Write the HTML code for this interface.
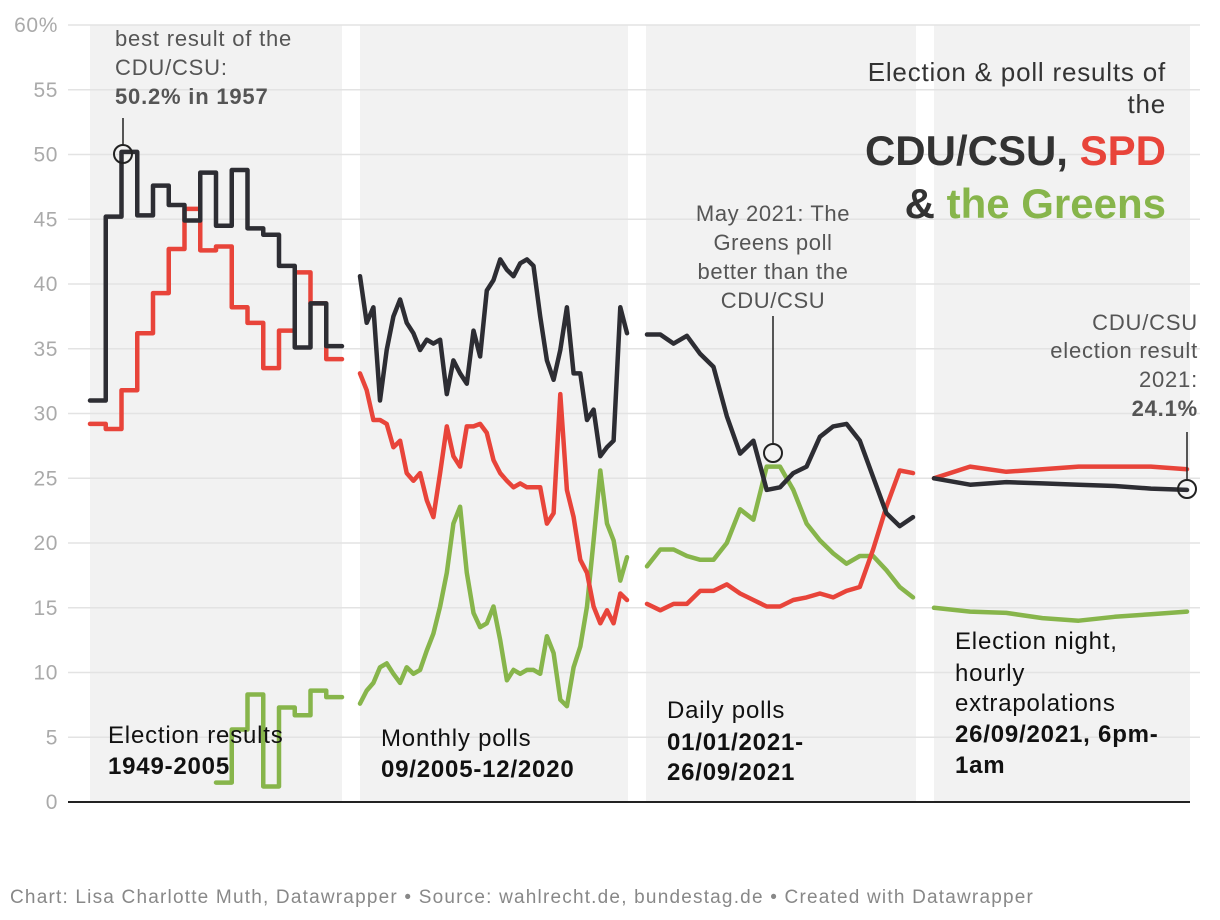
<!DOCTYPE html>
<html><head><meta charset="utf-8">
<style>
html,body{margin:0;padding:0;background:#fff;}
svg{display:block;font-family:"Liberation Sans",Arial,sans-serif;}
</style></head>
<body>
<svg id="chart" width="1220" height="920" viewBox="0 0 1220 920" xmlns="http://www.w3.org/2000/svg">
  <g id="bg"></g>
  <g id="grid"></g>
  <g id="yaxis"></g>
  <g id="series"></g>
  <line x1="68" y1="802" x2="1190" y2="802" stroke="#222" stroke-width="2"/>

  <g text-anchor="end">
    <text x="1166" y="81" font-size="26" letter-spacing="0.8" fill="#333">Election &amp; poll results of</text>
    <text x="1166" y="113" font-size="26" letter-spacing="0.8" fill="#333">the</text>
    <text x="1166" y="165" font-size="42" font-weight="bold" fill="#333">CDU/CSU, <tspan fill="#e8443a">SPD</tspan></text>
    <text x="1166" y="218" font-size="42" font-weight="bold" fill="#333">&amp; <tspan fill="#87b54b">the Greens</tspan></text>
  </g>

  <g font-size="22" letter-spacing="0.8" fill="#555">
    <text x="115" y="46">best result of the</text>
    <text x="115" y="75">CDU/CSU:</text>
    <text x="115" y="104" font-weight="bold">50.2% in 1957</text>
    <line x1="123" y1="118" x2="123" y2="145" stroke="#222" stroke-width="1.5"/>
    <circle cx="123" cy="154" r="9" fill="none" stroke="#222" stroke-width="2"/>
  </g>
  <g font-size="22" letter-spacing="0.6" fill="#555" text-anchor="middle">
    <text x="773" y="221">May 2021: The</text>
    <text x="773" y="250">Greens poll</text>
    <text x="773" y="279">better than the</text>
    <text x="773" y="308">CDU/CSU</text>
    <line x1="773" y1="316" x2="773" y2="444" stroke="#222" stroke-width="1.5"/>
    <circle cx="773" cy="453" r="9" fill="none" stroke="#222" stroke-width="2"/>
  </g>
  <g font-size="22" letter-spacing="0.8" fill="#555" text-anchor="end">
    <text x="1198" y="330">CDU/CSU</text>
    <text x="1198" y="358">election result</text>
    <text x="1198" y="387">2021:</text>
    <text x="1198" y="416" font-weight="bold">24.1%</text>
    <line x1="1187" y1="432" x2="1187" y2="480" stroke="#222" stroke-width="1.5"/>
    <circle cx="1187" cy="489" r="9" fill="none" stroke="#222" stroke-width="2"/>
  </g>

  <g font-size="24" letter-spacing="0.8" fill="#111">
    <text x="108" y="743">Election results</text>
    <text x="108" y="774" font-weight="bold">1949-2005</text>
    <text x="381" y="746">Monthly polls</text>
    <text x="381" y="777" font-weight="bold">09/2005-12/2020</text>
    <text x="667" y="718">Daily polls</text>
    <text x="667" y="750" font-weight="bold">01/01/2021-</text>
    <text x="667" y="780" font-weight="bold">26/09/2021</text>
    <text x="955" y="649">Election night,</text>
    <text x="955" y="681">hourly</text>
    <text x="955" y="711">extrapolations</text>
    <text x="955" y="742" font-weight="bold">26/09/2021, 6pm-</text>
    <text x="955" y="773" font-weight="bold">1am</text>
  </g>

  <text x="10" y="903" font-size="19" letter-spacing="1.2" fill="#888">Chart: Lisa Charlotte Muth, Datawrapper • Source: wahlrecht.de, bundestag.de • Created with Datawrapper</text>
</svg>
<script>
// ---- data ----
const yTicks = [0,5,10,15,20,25,30,35,40,45,50,55,60];
const elections = [1949,1953,1957,1961,1965,1969,1972,1976,1980,1983,1987,1990,1994,1998,2002,2005];
const cduElection = [31.0,45.2,50.2,45.3,47.6,46.1,44.9,48.6,44.5,48.8,44.3,43.8,41.4,35.1,38.5,35.2];
const spdElection = [29.2,28.8,31.8,36.2,39.3,42.7,45.8,42.6,42.9,38.2,37.0,33.5,36.4,40.9,38.5,34.2];
const greensElection = [null,null,null,null,null,null,null,null,1.5,5.6,8.3,1.2,7.3,6.7,8.6,8.1];
const cduMonthly = [40.6,37.0,38.2,31.0,34.9,37.5,38.8,37.0,36.2,34.9,35.7,35.4,35.7,31.5,34.1,33.1,32.3,36.4,34.4,39.5,40.3,41.9,41.1,40.6,41.6,41.9,41.4,37.5,34.1,32.6,34.9,38.2,33.1,33.1,29.5,30.3,26.7,27.4,27.9,38.2,36.2];
const spdMonthly = [33.1,31.8,29.5,29.5,29.2,27.4,27.9,25.4,24.8,25.4,23.3,22.0,25.4,29.0,26.7,25.9,29.0,29.0,29.2,28.5,26.4,25.4,24.8,24.3,24.6,24.3,24.3,24.3,21.5,22.3,31.5,24.1,22.0,18.7,17.7,15.1,13.8,14.8,13.8,16.1,15.6];
const greensMonthly = [7.6,8.6,9.2,10.4,10.7,9.9,9.2,10.4,9.9,10.2,11.7,13.0,15.1,17.7,21.5,22.8,17.7,14.6,13.5,13.8,15.1,12.5,9.4,10.2,9.9,10.2,10.2,9.9,12.8,11.5,7.9,7.4,10.4,12.0,15.1,20.2,25.6,21.5,20.2,17.1,18.9];
const cduDaily = [36.1,36.1,35.4,36.0,34.6,33.6,29.8,26.9,27.9,24.1,24.3,25.4,25.9,28.2,29.0,29.2,27.9,25.1,22.3,21.3,22.0];
const spdDaily = [15.3,14.8,15.3,15.3,16.3,16.3,16.8,16.1,15.6,15.1,15.1,15.6,15.8,16.1,15.8,16.3,16.6,19.5,22.8,25.6,25.4];
const greensDaily = [18.2,19.5,19.5,19.0,18.7,18.7,20.0,22.6,21.8,25.9,25.9,24.1,21.5,20.2,19.2,18.4,19.0,19.0,17.9,16.6,15.8];
const hours = ["18:00","19:00","20:00","21:00","22:00","23:00","00:00","01:00"];
const cduHourly = [25.0,24.5,24.7,24.6,24.5,24.4,24.2,24.1];
const spdHourly = [25.0,25.9,25.5,25.7,25.9,25.9,25.9,25.7];
const greensHourly = [15.0,14.7,14.6,14.2,14.0,14.3,14.5,14.7];

// ---- layout ----
const NS = "http://www.w3.org/2000/svg";
const Y0 = 802, Y60 = 25;
const yScale = v => Y0 - (v/60)*(Y0-Y60);
const panels = [[90,342],[360,628],[646,916],[934,1190]];
const COL = {cdu:"#2d2d33", spd:"#e8443a", green:"#87b54b"};

function mk(tag, attrs, parent){
  const e = document.createElementNS(NS, tag);
  for (const k in attrs) e.setAttribute(k, attrs[k]);
  parent.appendChild(e);
  return e;
}
const bg = document.getElementById('bg');
panels.forEach((p,i)=>{
  const r = mk('rect',{x:p[0],y:Y60,width:p[1]-p[0],height:Y0-Y60,fill:'#f2f2f2'},bg);
  
  
});
const grid = document.getElementById('grid'), yax = document.getElementById('yaxis');
yTicks.forEach(t=>{
  const y = yScale(t);
  if (t>0){
    const l = mk('line',{x1:68,x2:1200,y1:y,y2:y,stroke:'#e3e3e3','stroke-width':1.5},grid);
    
    
  }
  const tx = mk('text',{x:58,y:y+7,'text-anchor':'end','font-size':21,'letter-spacing':0.6,fill:'#aaa'},yax);
  tx.textContent = t===60 ? '60%' : String(t);
  
  
});

const ser = document.getElementById('series');
function stepPath(vals, p){
  const w = (p[1]-p[0])/vals.length;
  let d = '', prev = null;
  vals.forEach((v,i)=>{
    if (v===null){ prev=null; return; }
    const x0 = p[0]+i*w, x1 = x0+w, y = yScale(v);
    d += (prev===null ? 'M'+x0+','+y : 'L'+x0+','+y) + 'L'+x1+','+y;
    prev = v;
  });
  return d;
}
function linePath(vals, p){
  const n = vals.length;
  return vals.map((v,i)=>{
    const x = p[0] + (p[1]-p[0]-3)*i/(n-1);
    return (i?'L':'M')+x.toFixed(1)+','+yScale(v).toFixed(1);
  }).join('');
}
function draw(d, color, name){
  const e = mk('path',{d:d,fill:'none',stroke:color,'stroke-width':4.5,'stroke-linejoin':'round','stroke-linecap':'round'},ser);
  
  
}
const p2 = [360,630], p3 = [647,916], p4 = [934,1190];
draw(linePath(greensMonthly,p2), COL.green, 'greens-monthly-line');
draw(linePath(spdMonthly,p2), COL.spd, 'spd-monthly-line');
draw(linePath(cduMonthly,p2), COL.cdu, 'cdu-monthly-line');
draw(stepPath(greensElection,panels[0]), COL.green, 'greens-election-line');
draw(stepPath(spdElection,panels[0]), COL.spd, 'spd-election-line');
draw(stepPath(cduElection,panels[0]), COL.cdu, 'cdu-election-line');
draw(linePath(greensDaily,p3), COL.green, 'greens-daily-line');
draw(linePath(spdDaily,p3), COL.spd, 'spd-daily-line');
draw(linePath(cduDaily,p3), COL.cdu, 'cdu-daily-line');
draw(linePath(greensHourly,p4), COL.green, 'greens-hourly-line');
draw(linePath(spdHourly,p4), COL.spd, 'spd-hourly-line');
draw(linePath(cduHourly,p4), COL.cdu, 'cdu-hourly-line');
</script>
</body></html>
